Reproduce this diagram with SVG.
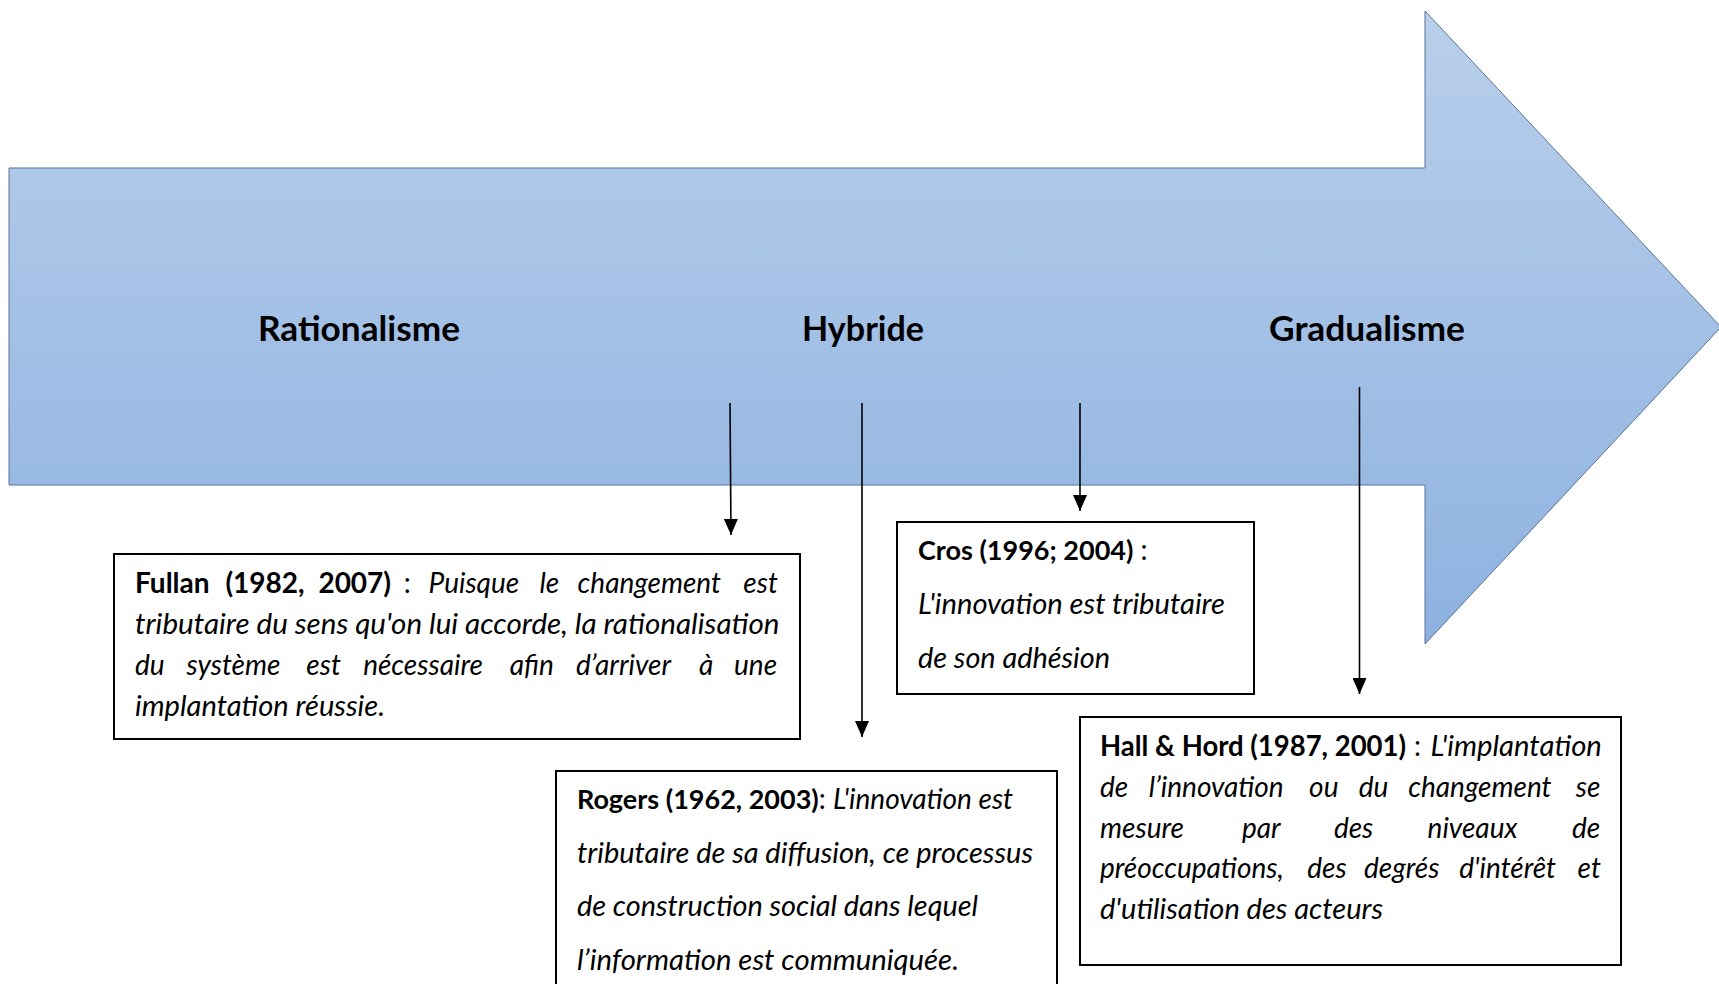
<svg xmlns="http://www.w3.org/2000/svg" width="1719" height="984" viewBox="0 0 1719 984">
<defs>
<linearGradient id="arrowGrad" x1="0" y1="0" x2="0" y2="1">
<stop offset="0" stop-color="#b9cfeb"/>
<stop offset="1" stop-color="#8db2e0"/>
</linearGradient>
<marker id="ah" viewBox="0 0 16 14" refX="16" refY="7" markerWidth="16" markerHeight="14" markerUnits="userSpaceOnUse" orient="auto">
<path d="M0,0 L16,7 L0,14 z" fill="#000"/>
</marker>
</defs>
<style>
.t{font-family:Lato,"Liberation Sans",sans-serif;font-size:28px;fill:#000}
.b{font-weight:bold;font-style:normal}
.b27{font-size:27px}
.i{font-style:italic}
.h{font-family:Lato,"Liberation Sans",sans-serif;font-size:35px;font-weight:bold;fill:#000}
.box{fill:#fff;stroke:#000;stroke-width:2}
.con{stroke:#000;stroke-width:1.6;fill:none;marker-end:url(#ah)}
</style>
<rect width="1719" height="984" fill="#fff"/>
<g id="timeline-arrow">
<path d="M9,168 L1425,168 L1425,11 L1721,327 L1425,644 L1425,485 L9,485 Z" fill="url(#arrowGrad)" stroke="#5b7395" stroke-width="1"/>
<text class="h" x="258" y="341" textLength="202" lengthAdjust="spacingAndGlyphs">Rationalisme</text>
<text class="h" x="802" y="341" textLength="122" lengthAdjust="spacingAndGlyphs">Hybride</text>
<text class="h" x="1269" y="341" textLength="196" lengthAdjust="spacingAndGlyphs">Gradualisme</text>
</g>
<g id="connectors">
<line class="con" x1="730" y1="403" x2="731" y2="535"/>
<line class="con" x1="862" y1="403" x2="862" y2="737"/>
<line class="con" x1="1080" y1="403" x2="1080" y2="511"/>
<line class="con" x1="1359.5" y1="387" x2="1359.5" y2="694"/>
</g>
<g id="fullan">
<rect class="box" x="114" y="554" width="686" height="185"/>
<text class="t" y="593"><tspan class="b" x="135">Fullan</tspan><tspan class="b" x="225.4">(1982,</tspan><tspan class="b" x="318.4">2007)</tspan><tspan x="403.8">:</tspan><tspan class="i" x="428.5">Puisque</tspan><tspan class="i" x="539.5">le</tspan><tspan class="i" x="577.6">changement</tspan><tspan class="i" x="743.3">est</tspan></text>
<text class="t i" x="135" y="634" textLength="644.5" lengthAdjust="spacingAndGlyphs">tributaire du sens qu'on lui accorde, la rationalisation</text>
<text class="t i" y="675"><tspan x="135">du</tspan><tspan x="186.6">système</tspan><tspan x="306.3">est</tspan><tspan x="363.2">nécessaire</tspan><tspan x="509.8">afin</tspan><tspan x="575.9">d’arriver</tspan><tspan x="699">à</tspan><tspan x="734">une</tspan></text>
<text class="t i" x="135" y="716" textLength="250" lengthAdjust="spacingAndGlyphs">implantation réussie.</text>
</g>
<g id="rogers">
<rect class="box" x="556" y="771" width="501" height="230"/>
<text class="t" x="577" y="809"><tspan class="b b27">Rogers (1962, 2003)</tspan>: <tspan class="i">L'innovation est</tspan></text>
<text class="t i" x="577" y="863" textLength="456" lengthAdjust="spacingAndGlyphs">tributaire de sa diffusion, ce processus</text>
<text class="t i" x="577" y="916" textLength="401" lengthAdjust="spacingAndGlyphs">de construction social dans lequel</text>
<text class="t i" x="577" y="970" textLength="382" lengthAdjust="spacingAndGlyphs">l’information est communiquée.</text>
</g>
<g id="cros">
<rect class="box" x="897" y="522" width="357" height="172"/>
<text class="t" x="918" y="560"><tspan class="b b27">Cros (1996; 2004)</tspan> :</text>
<text class="t i" x="918" y="614" textLength="307" lengthAdjust="spacingAndGlyphs">L'innovation est tributaire</text>
<text class="t i" x="918" y="668" textLength="192" lengthAdjust="spacingAndGlyphs">de son adhésion</text>
</g>
<g id="hall-hord">
<rect class="box" x="1080" y="717" width="541" height="248"/>
<text class="t b" x="1100" y="756" textLength="306" lengthAdjust="spacingAndGlyphs">Hall &amp; Hord (1987, 2001)</text>
<text class="t" x="1414" y="756">:</text>
<text class="t i" x="1430.4" y="756" textLength="171.5" lengthAdjust="spacingAndGlyphs">L'implantation</text>
<text class="t i" y="797"><tspan x="1100">de</tspan><tspan x="1148.7">l’innovation</tspan><tspan x="1309.1">ou</tspan><tspan x="1358.7">du</tspan><tspan x="1408.2">changement</tspan><tspan x="1575.8">se</tspan></text>
<text class="t i" y="838"><tspan x="1100">mesure</tspan><tspan x="1242">par</tspan><tspan x="1333.9">des</tspan><tspan x="1427.6">niveaux</tspan><tspan x="1572">de</tspan></text>
<text class="t i" y="878"><tspan x="1100">préoccupations,</tspan><tspan x="1307.3">des</tspan><tspan x="1364">degrés</tspan><tspan x="1459.3">d'intérêt</tspan><tspan x="1577.6">et</tspan></text>
<text class="t i" x="1100" y="919" textLength="283" lengthAdjust="spacingAndGlyphs">d'utilisation des acteurs</text>
</g>
</svg>
